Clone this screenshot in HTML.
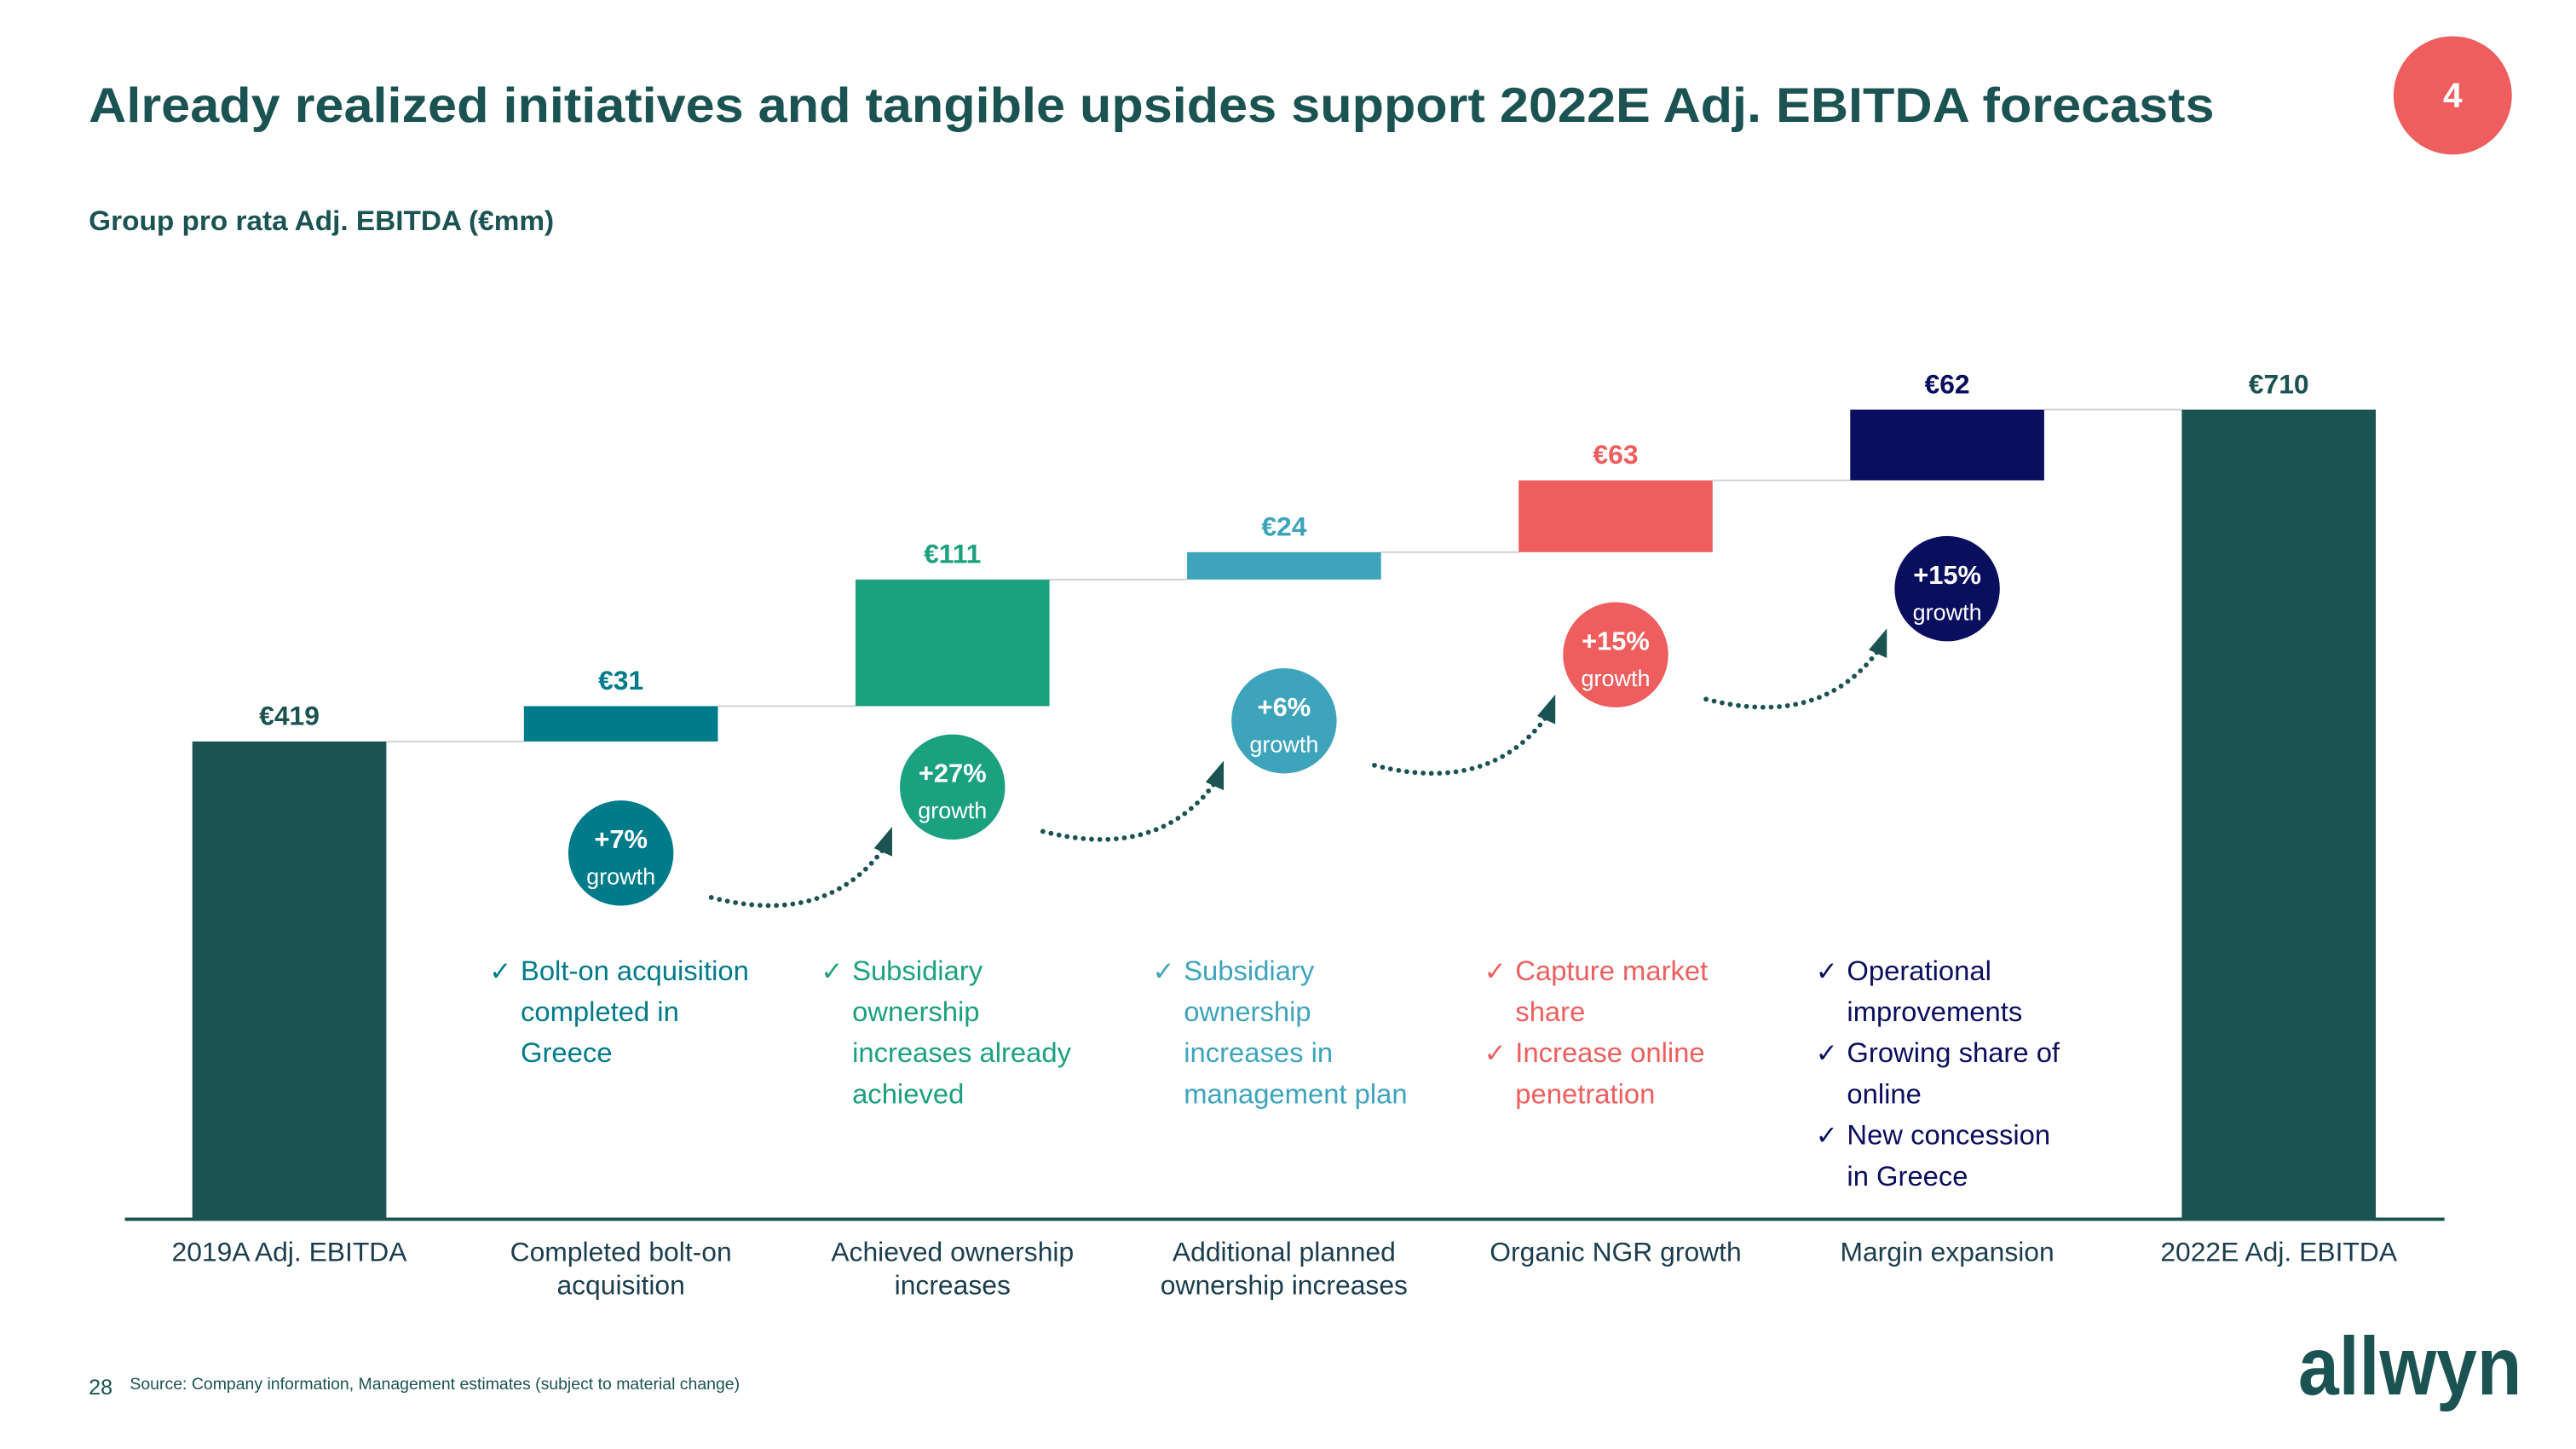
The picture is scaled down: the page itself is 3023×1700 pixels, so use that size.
<!DOCTYPE html>
<html><head><meta charset="utf-8"><style>
html,body{margin:0;padding:0;background:#fff;}
svg{display:block;font-family:"Liberation Sans",Arial,sans-serif;}
</style></head><body>
<svg id="chart" width="3023" height="1700" viewBox="0 0 1567 881.2" xmlns="http://www.w3.org/2000/svg">
<text x="54" y="74" font-size="30" font-weight="bold" fill="#1b5252" textLength="1293" lengthAdjust="spacingAndGlyphs">Already realized initiatives and tangible upsides support 2022E Adj. EBITDA forecasts</text>
<circle cx="1492" cy="58" r="36" fill="#ee5e5e"/>
<text x="1492" y="65" font-size="21" font-weight="bold" fill="#fff" text-anchor="middle">4</text>
<text x="54" y="140" font-size="17" font-weight="bold" fill="#1b5252" textLength="283" lengthAdjust="spacingAndGlyphs">Group pro rata Adj. EBITDA (€mm)</text>
<g id="bars"></g>
<line x1="76" y1="741.5" x2="1487" y2="741.5" stroke="#1b5252" stroke-width="2"/>
<g id="cats"></g>
<g id="bubbles"></g>
<g id="bullets"></g>
<text x="54" y="848" font-size="13" fill="#1b5252">28</text>
<text x="79" y="845" font-size="10" fill="#1b5252" textLength="371" lengthAdjust="spacingAndGlyphs">Source: Company information, Management estimates (subject to material change)</text>
<text x="1398" y="848" font-size="50" font-weight="bold" fill="#1b5252" textLength="136" lengthAdjust="spacingAndGlyphs">allwyn</text>
</svg>
<script>
const categories = ["2019A Adj. EBITDA", "Completed bolt-on|acquisition", "Achieved ownership|increases", "Additional planned|ownership increases", "Organic NGR growth", "Margin expansion", "2022E Adj. EBITDA"];
const values = [419, 31, 111, 24, 63, 62, 710];
const valueLabels = ["€419", "€31", "€111", "€24", "€63", "€62", "€710"];
const isTotal = [true, false, false, false, false, false, true];
const growthLabels = ["", "+7%", "+27%", "+6%", "+15%", "+15%", ""];
const bullets = [[], ["Bolt-on acquisition|completed in|Greece"], ["Subsidiary|ownership|increases already|achieved"], ["Subsidiary|ownership|increases in|management plan"], ["Capture market|share", "Increase online|penetration"], ["Operational|improvements", "Growing share of|online", "New concession|in Greece"], []];
const colors = ["#1b5252", "#007b8a", "#1ba080", "#3ea4bc", "#ee5e5e", "#0a0e5e", "#1b5252"];

const NS = "http://www.w3.org/2000/svg";
const baseY = 741.5, pxPerUnit = 0.6935, x0 = 176, step = 201.7, bw = 118;
const y = v => baseY - v * pxPerUnit;
const xc = i => x0 + i * step;
function mk(tag, attrs, parent, txt) {
  const e = document.createElementNS(NS, tag);
  for (const k in attrs) e.setAttribute(k, attrs[k]);
  if (txt !== undefined) e.textContent = txt;
  parent.appendChild(e);
  return e;
}
const gBars = document.getElementById("bars"), gCats = document.getElementById("cats"), gB = document.getElementById("bubbles"), gL = document.getElementById("bullets");
let cum = 0;
values.forEach((v, i) => {
  let lo, hi;
  if (isTotal[i]) { lo = 0; hi = v; cum = v; } else { lo = cum; hi = cum + v; cum = hi; }
  const r = mk("rect", {x: xc(i) - bw / 2, y: y(hi), width: bw, height: y(lo) - y(hi), fill: colors[i]}, gBars);
  
  
  if (i < values.length - 1) {
    const ln = mk("line", {x1: xc(i) + bw / 2, x2: xc(i + 1) - bw / 2, y1: y(hi), y2: y(hi), stroke: "#d0d0d0", "stroke-width": 1}, gBars);
    
    
  }
  const t = mk("text", {x: xc(i), y: y(hi) - 10, "text-anchor": "middle", "font-size": 16.5, "font-weight": "bold", fill: colors[i]}, gBars, valueLabels[i]);
  
  
  categories[i].split("|").forEach((ln, k) => {
    const c = mk("text", {x: xc(i), y: 767 + k * 20, "text-anchor": "middle", "font-size": 16.5, fill: "#1b3d4d"}, gCats, ln);
    
    
  });
  if (growthLabels[i]) {
    const cy = 559 - i * 40.2;
    const ci = mk("circle", {cx: xc(i), cy: cy, r: 32, fill: colors[i]}, gB);
    
    
    const g1 = mk("text", {x: xc(i), y: cy - 3, "text-anchor": "middle", "font-size": 16, "font-weight": "bold", fill: "#fff"}, gB, growthLabels[i]);
    
    
    const g2 = mk("text", {x: xc(i), y: cy + 19, "text-anchor": "middle", "font-size": 14, fill: "#fff"}, gB, "growth");
    
    
    if (i < 5) {
      const ax = xc(i) + 55, ay = cy + 27;
      const p = mk("path", {d: `M${ax},${ay} Q${ax + 70},${ay + 18} ${ax + 105},${ay - 30}`, fill: "none", stroke: "#1b5252", "stroke-width": 3, "stroke-dasharray": "0 5", "stroke-linecap": "round"}, gB);
      
      
      const h = mk("polygon", {points: `${ax + 110},${ay - 43} ${ax + 99},${ay - 30} ${ax + 110},${ay - 25}`, fill: "#1b5252"}, gB);
      
      
    }
  }
  let line = 0;
  bullets[i].forEach(b => {
    const cx = xc(i) - 80;
    const ck = mk("text", {x: cx, y: 596 + line * 25, "font-size": 16, fill: colors[i]}, gL, "✓");
    
    
    b.split("|").forEach(s => {
      const bt = mk("text", {x: cx + 19, y: 596 + line * 25, "font-size": 17, fill: colors[i]}, gL, s);
      
      
      line++;
    });
  });
});
</script>
</body></html>
